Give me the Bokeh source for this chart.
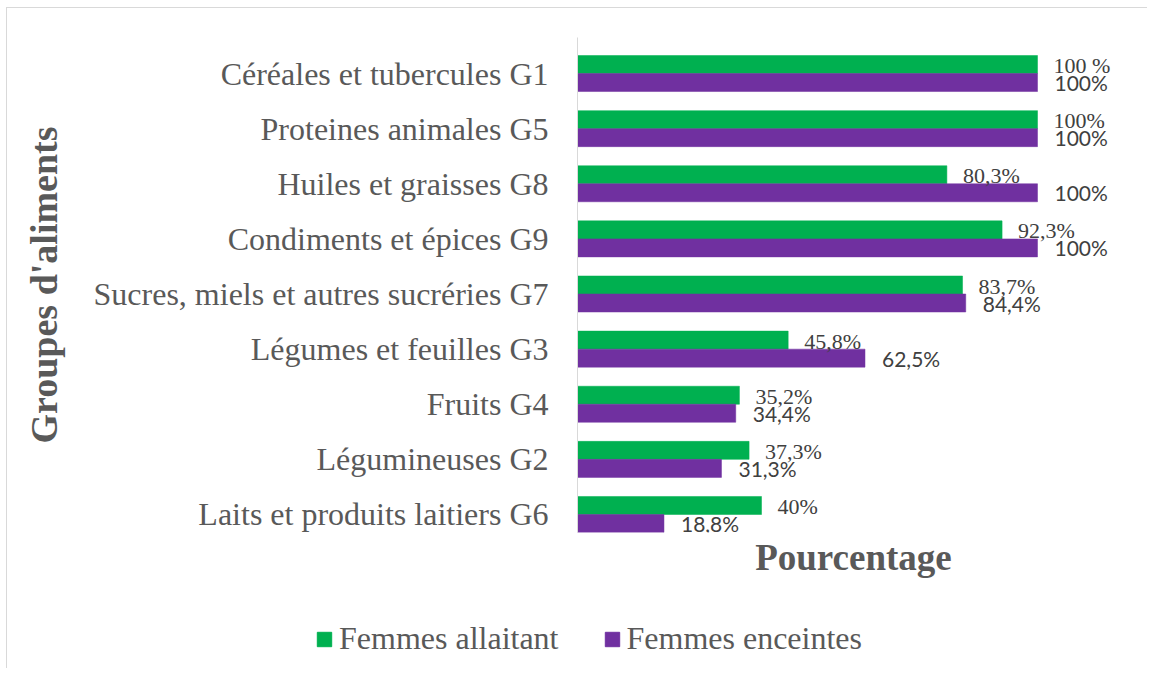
from bokeh.plotting import figure
from bokeh.layouts import column
from bokeh.models import ColumnDataSource, Range1d, FixedTicker, Legend, LegendItem
from bokeh.transform import dodge
from bokeh.core.properties import value
from bokeh.embed import file_html
from bokeh.resources import INLINE

categories = [
    "Céréales et tubercules G1",
    "Proteines animales G5",
    "Huiles et graisses G8",
    "Condiments et épices G9",
    "Sucres, miels et autres sucréries G7",
    "Légumes et feuilles G3",
    "Fruits G4",
    "Légumineuses G2",
    "Laits et produits laitiers G6",
]
allaitant = [100, 100, 80.3, 92.3, 83.7, 45.8, 35.2, 37.3, 40]
enceintes = [100, 100, 100, 100, 84.4, 62.5, 34.4, 31.3, 18.8]
allaitant_labels = ["100 %", "100%", "80,3%", "92,3%", "83,7%", "45,8%", "35,2%", "37,3%", "40%"]
enceintes_labels = ["100%", "100%", "100%", "100%", "84,4%", "62,5%", "34,4%", "31,3%", "18,8%"]
series_names = ["Femmes allaitant", "Femmes enceintes"]

n = len(categories)
ypos = [n - 1 - i for i in range(n)]

GREEN = "#00B050"
PURPLE = "#7030A0"
GREY = "#595959"

src = ColumnDataSource(dict(y=ypos, cat=categories, a=allaitant, e=enceintes,
                            la=allaitant_labels, le=enceintes_labels))

BAR_H = 0.3267

p = figure(width=1140, height=590, output_backend="svg", toolbar_location=None,
           x_range=Range1d(0, 120), y_range=Range1d(-BAR_H, n - 1 + 2 * BAR_H),
           min_border_left=570, min_border_right=18, min_border_top=29, min_border_bottom=66)
p.frame_align = False
p.outline_line_color = None
p.xgrid.visible = False
p.ygrid.visible = False
p.background_fill_color = "white"
p.border_fill_color = "white"

rg = p.hbar(y=dodge("y", BAR_H / 2, range=p.y_range), right="a", left=0, height=BAR_H,
            source=src, fill_color=GREEN, line_color=GREEN, line_width=0.5)
rp = p.hbar(y=dodge("y", -BAR_H / 2, range=p.y_range), right="e", left=0, height=BAR_H,
            source=src, fill_color=PURPLE, line_color=PURPLE, line_width=0.5)

p.text(x="a", y="y", text="la", source=src, x_offset=16, y_offset=-8,
       text_font=value("Liberation Serif"), text_font_size="22px", text_color="#404040",
       text_baseline="alphabetic", text_align="left")
p.text(x="e", y=dodge("y", -BAR_H, range=p.y_range), text="le", source=src, x_offset=17, y_offset=-9,
       text_font=value("Lato"), text_font_size="21px", text_color="#404040",
       text_baseline="alphabetic", text_align="left")

# y axis
ya = p.yaxis[0]
ya.ticker = FixedTicker(ticks=ypos)
ya.major_label_overrides = {int(y): c for y, c in zip(ypos, categories)}
ya.major_tick_line_color = None
ya.major_tick_out = 0
ya.major_tick_in = 0
ya.minor_tick_line_color = None
ya.axis_line_color = "#d9d9d9"
ya.axis_line_width = 1
ya.major_label_standoff = 29
ya.major_label_text_font = "Liberation Serif"
ya.major_label_text_font_size = "32px"
ya.major_label_text_color = GREY
ya.axis_label = "Groupes d'aliments"
ya.axis_label_text_font = "Liberation Serif"
ya.axis_label_text_font_size = "38px"
ya.axis_label_text_font_style = "bold"
ya.axis_label_text_color = GREY
ya.axis_label_standoff = 26

# x axis
xa = p.xaxis[0]
xa.ticker = FixedTicker(ticks=[])
xa.major_tick_line_color = None
xa.major_tick_out = 0
xa.major_tick_in = 0
xa.minor_tick_line_color = None
xa.axis_line_color = None
xa.major_label_text_font_size = "0px"
xa.axis_label = "Pourcentage"
xa.axis_label_text_font = "Liberation Serif"
xa.axis_label_text_font_size = "37px"
xa.axis_label_text_font_style = "bold"
xa.axis_label_text_color = GREY
xa.axis_label_standoff = 4

# legend strip
lf = figure(width=1140, height=70, output_backend="svg", toolbar_location=None,
            x_range=Range1d(0, 1), y_range=Range1d(0, 1),
            min_border_left=0, min_border_right=0, min_border_top=0, min_border_bottom=0)
lf.frame_align = False
lf.outline_line_color = None
lf.axis.visible = False
lf.xgrid.visible = False
lf.ygrid.visible = False
lf.background_fill_color = "white"
lf.border_fill_color = "white"
lg = lf.hbar(y="y", right="a", height=BAR_H, source=src, fill_color=GREEN, line_color=GREEN, visible=False)
lp = lf.hbar(y="y", right="e", height=BAR_H, source=src, fill_color=PURPLE, line_color=PURPLE, visible=False)

legend = Legend(items=[LegendItem(label=series_names[0], renderers=[lg]),
                       LegendItem(label=series_names[1], renderers=[lp])],
                orientation="horizontal", location=(308, 11),
                glyph_width=18, glyph_height=18, label_standoff=6, spacing=44,
                padding=0, margin=0, border_line_color=None, background_fill_alpha=0,
                inactive_fill_alpha=0,
                label_text_font="Liberation Serif", label_text_font_size="32px",
                label_text_color=GREY)
lf.add_layout(legend, "center")

layout = column(p, lf, spacing=0)
layout.margin = (7, 0, 0, 6)
layout.styles = {"border-left": "1px solid #d9d9d9", "border-top": "1px solid #d9d9d9"}

open("out.html", "w").write(file_html(layout, INLINE))
